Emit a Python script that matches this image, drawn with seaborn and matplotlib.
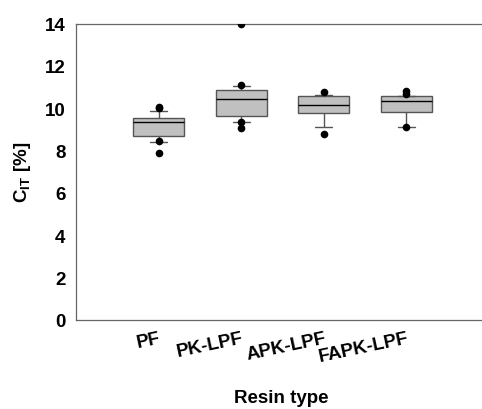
import pandas as pd
import seaborn as sns
import matplotlib
matplotlib.use("Agg")
from matplotlib import pyplot as plt

# Box statistics (C_IT in %)
resins = ["PF", "PK-LPF", "APK-LPF", "FAPK-LPF"]
whisker_low = [8.42, 9.33, 9.10, 9.11]
q1 = [8.70, 9.63, 9.77, 9.82]
medians = [9.33, 10.42, 10.15, 10.33]
q3 = [9.55, 10.84, 10.56, 10.56]
whisker_high = [9.88, 11.06, 10.64, 10.59]

# Single points drawn as black dots
outlier_resin = ["PF", "PF", "PF", "PF",
                 "PK-LPF", "PK-LPF", "PK-LPF", "PK-LPF",
                 "APK-LPF", "APK-LPF",
                 "FAPK-LPF", "FAPK-LPF", "FAPK-LPF"]
outlier_value = [10.01, 10.05, 8.44, 7.88,
                 14.0, 11.10, 9.33, 9.05,
                 10.78, 8.78,
                 10.80, 10.66, 9.10]

sns.set_style("white")
plt.rcParams["font.family"] = ["Liberation Sans", "DejaVu Sans"]
plt.rcParams["mathtext.fontset"] = "custom"
plt.rcParams["mathtext.bf"] = "Liberation Sans:bold"
plt.rcParams["mathtext.rm"] = "Liberation Sans"
plt.rcParams["text.color"] = "black"
plt.rcParams["axes.labelcolor"] = "black"

# five values per resin -> quartiles / whisker ends with whis=(0, 100)
rows = []
for i, r in enumerate(resins):
    for v in [whisker_low[i], q1[i], medians[i], q3[i], whisker_high[i]]:
        rows.append([r, v])
df = pd.DataFrame(rows, columns=["Resin", "CIT"])
pts = pd.DataFrame({"Resin": outlier_resin, "CIT": outlier_value})

fig = plt.figure(figsize=(4.82, 4.10), dpi=100)
ax = fig.add_axes([76 / 482, 89 / 410, 495.6 / 482, 296.5 / 410])

edge = "#555555"
sns.boxplot(
    data=df, x="Resin", y="CIT", order=resins, ax=ax,
    whis=(0, 100), width=0.62, color="#c0c0c0", saturation=1,
    linewidth=1.0, linecolor=edge, showfliers=False,
    medianprops={"color": "black", "linewidth": 1.0},
    capwidths=0.21,
)
sns.stripplot(
    data=pts, x="Resin", y="CIT", order=resins, ax=ax,
    jitter=False, color="black", size=5.5, zorder=5,
)

ax.set_xlim(-1, 5)
ax.set_ylim(0, 14)
ax.set_yticks(range(0, 15, 2))
for s in ["left", "top", "bottom"]:
    ax.spines[s].set_color("#666666")
    ax.spines[s].set_linewidth(0.9)
ax.spines["right"].set_visible(False)
ax.tick_params(axis="both", direction="out", length=4, width=0.9,
               color="#666666", labelcolor="black", labelsize=13.5)
ax.tick_params(axis="x", pad=3)
for lab in ax.get_yticklabels():
    lab.set_fontweight("bold")
ax.set_xticks(range(len(resins)))
ax.set_xticklabels(resins, rotation=12, ha="right", va="top",
                   rotation_mode="anchor", fontweight="bold", fontsize=13.5)

ax.set_xlabel("Resin type", fontsize=13.5, fontweight="bold")
ax.xaxis.label.set_va("center")
ax.xaxis.set_label_coords((281.7 - 76) / 495.6, (321 - 399) / 296.5)
ax.set_ylabel(r"C$_{\mathbf{IT}}$ [%]", fontsize=13.5, fontweight="bold")
ax.yaxis.label.set_va("center")
ax.yaxis.set_label_coords((23 - 76) / 495.6, 0.5)

fig.savefig("out.png", dpi=100)
